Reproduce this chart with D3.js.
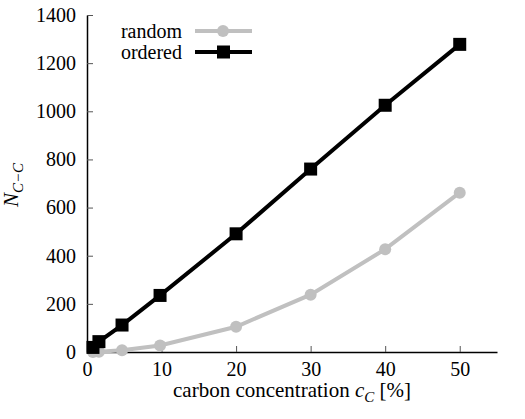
<!DOCTYPE html>
<html>
<head>
<style>
body { margin: 0; background: #fff; }
text { fill: #000; }
.axis path { stroke: #000; stroke-width: 1.5; }
.axis line { stroke: #555; stroke-width: 1; }
</style>
<script src="https://cdn.jsdelivr.net/npm/d3@7"></script>
</head>
<body>
<svg width="525" height="419"></svg>
<script>

var concentration = [0.8, 1.6, 4.7, 9.8, 20, 30, 40, 50];
var randomVals = [0, 1, 7, 27, 105, 238, 427, 662];
var orderedVals = [19, 43, 112, 235, 491, 760, 1025, 1278];
var xTicks = [0, 10, 20, 30, 40, 50];
var yTicks = [0, 200, 400, 600, 800, 1000, 1200, 1400];

var serif = "'Liberation Serif', 'Times New Roman', serif";

var svg = d3.select("svg"),
    margin = {top: 15, right: 28, bottom: 67, left: 87},
    width = +svg.attr("width") - margin.left - margin.right,
    height = +svg.attr("height") - margin.top - margin.bottom;

var x = d3.scaleLinear().domain([0, 55]).range([0, width]),
    y = d3.scaleLinear().domain([0, 1400]).range([height, 0]);

var g = svg.append("g")
    .attr("transform", "translate(" + margin.left + "," + margin.top + ")");

g.append("g")
    .attr("class", "axis")
    .attr("transform", "translate(0," + height + ")")
    .call(d3.axisBottom(x).tickValues(xTicks).tickFormat(d3.format("d"))
      .tickSizeInner(-6).tickSizeOuter(0).tickPadding(10));

g.append("g")
    .attr("class", "axis")
    .call(d3.axisLeft(y).tickValues(yTicks).tickFormat(d3.format("d"))
      .tickSizeInner(-6).tickSizeOuter(0).tickPadding(11));

svg.selectAll(".axis").attr("font-family", null).attr("font-size", null);
svg.selectAll(".axis text")
    .style("font-family", serif)
    .style("font-size", "20px");

// x label
var xl = svg.append("text")
    .attr("x", margin.left + width / 2)
    .attr("y", 397)
    .attr("text-anchor", "middle")
    .style("font-family", serif)
    .style("font-size", "21px");
xl.append("tspan").text("carbon concentration ");
xl.append("tspan").style("font-style", "italic").text("c");
xl.append("tspan").style("font-style", "italic").style("font-size", "15px").attr("dy", 5).text("C");
xl.append("tspan").attr("dy", -5).text(" [%]");

// y label
var yl = svg.append("text")
    .attr("transform", "translate(18,185) rotate(-90)")
    .attr("text-anchor", "middle")
    .style("font-family", serif)
    .style("font-size", "21px");
yl.append("tspan").style("font-style", "italic").text("N");
yl.append("tspan").style("font-style", "italic").style("font-size", "15px").attr("dy", 5).text("C\u2212C");

var line = d3.line()
    .x(function(d, i) { return x(concentration[i]); })
    .y(function(d) { return y(d); });

var grey = "#c0c0c0";

g.append("path")
    .datum(randomVals)
    .attr("fill", "none")
    .attr("stroke", grey)
    .attr("stroke-width", 4)
    .attr("d", line);

g.selectAll(".dot")
    .data(randomVals)
    .enter().append("circle")
      .attr("class", "dot")
      .attr("cx", function(d, i) { return x(concentration[i]); })
      .attr("cy", function(d) { return y(d); })
      .attr("r", 6)
      .attr("fill", grey);

g.append("path")
    .datum(orderedVals)
    .attr("fill", "none")
    .attr("stroke", "#000")
    .attr("stroke-width", 4)
    .attr("d", line);

g.selectAll(".sq")
    .data(orderedVals)
    .enter().append("rect")
      .attr("class", "sq")
      .attr("x", function(d, i) { return x(concentration[i]) - 6.5; })
      .attr("y", function(d) { return y(d) - 6.5; })
      .attr("width", 13)
      .attr("height", 13)
      .attr("fill", "#000");

// legend
var lgdata = [
  {text: "random", color: grey, shape: "circle"},
  {text: "ordered", color: "#000", shape: "square"}
];

var legend = svg.append("g").attr("transform", "translate(182,31)");
lgdata.forEach(function(entry, i) {
  var cy = i * 21;
  legend.append("text")
    .attr("x", 0)
    .attr("y", cy + 7)
    .attr("text-anchor", "end")
    .style("font-family", serif)
    .style("font-size", "20px")
    .text(entry.text);
  legend.append("line")
    .attr("x1", 13).attr("x2", 70)
    .attr("y1", cy).attr("y2", cy)
    .attr("stroke", entry.color)
    .attr("stroke-width", 4);
  if (entry.shape == "circle") {
    legend.append("circle").attr("cx", 41).attr("cy", cy).attr("r", 6).attr("fill", entry.color);
  } else {
    legend.append("rect").attr("x", 35).attr("y", cy - 6.5).attr("width", 13).attr("height", 13).attr("fill", entry.color);
  }
});

</script>
</body>
</html>
